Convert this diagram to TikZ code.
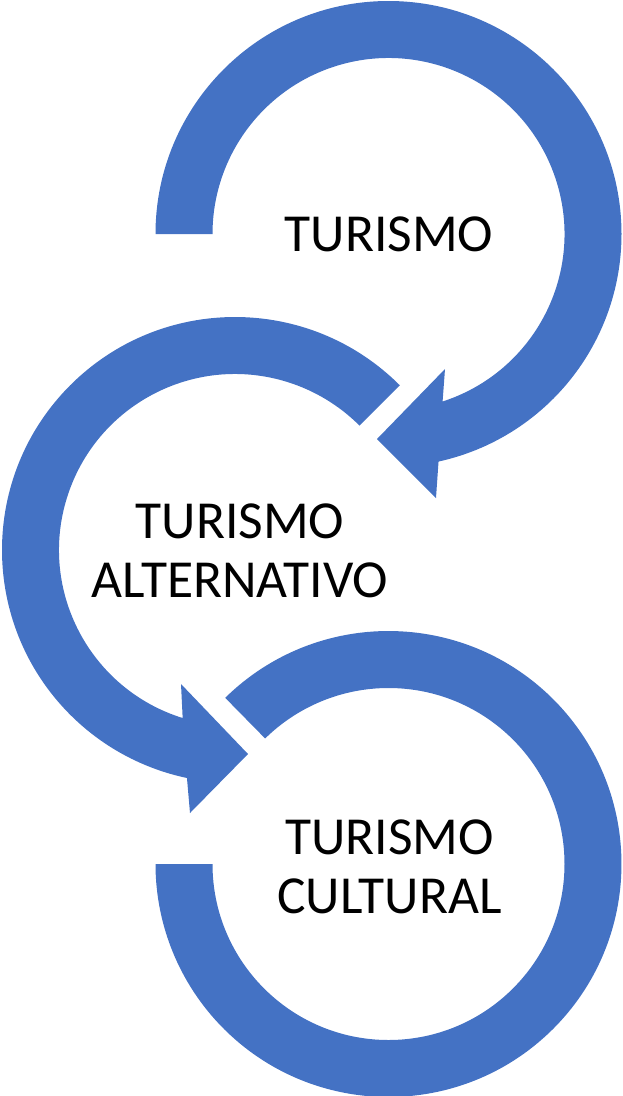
\documentclass[tikz,border=0pt]{standalone}
\usepackage{fontspec}
\setmainfont{Carlito}
\usetikzlibrary{calc}
\definecolor{arrowblue}{RGB}{68,114,196}
\begin{document}
\begin{tikzpicture}[x=1pt,y=1pt,
  arcband/.style={fill=arrowblue, draw=none},
  captiontext/.style={font=\fontsize{53.5}{59}\selectfont, align=center, text=black, inner sep=0pt}]
\useasboundingbox (0,0) rectangle (623,-1096);
% centres
\coordinate (C1) at (388.5,-234);
\coordinate (C2) at (235,-550);
\coordinate (C3) at (388.5,-864);
% arrowhead 1
\coordinate (A1) at (445,-369);
\coordinate (T1) at (377,-439);
\coordinate (B1) at (436,-498);
% arrowhead 2
\coordinate (A2) at (181,-684);
\coordinate (T2) at (248,-754);
\coordinate (B2) at (190,-813);
% arc 1
\fill[arcband] ($(C1)+(180:233)$) arc[start angle=180, end angle=-77.6, radius=233]
  -- (B1) -- (T1) -- (A1) -- ($(C1)+(-72.1:176)$)
  arc[start angle=-72.1, end angle=180, radius=176] -- cycle;
% arc 2
\fill[arcband] ($(C2)+(45:233)$) arc[start angle=45, end angle=258.1, radius=233]
  -- (B2) -- (T2) -- (A2) -- ($(C2)+(252.7:176)$)
  arc[start angle=252.7, end angle=45, radius=176] -- cycle;
% arc 3
\fill[arcband] ($(C3)+(134.5:233)$) arc[start angle=134.5, end angle=-180, radius=233]
  -- ($(C3)+(180:176)$)
  arc[start angle=-180, end angle=134.5, radius=176] -- cycle;
% texts
\node[captiontext] (t1) at (389,-234) {TURISMO};
\node[captiontext] (t2) at (240,-551) {TURISMO\\ALTERNATIVO};
\node[captiontext] (t3) at (389.5,-867) {TURISMO\\CULTURAL};
\end{tikzpicture}
\end{document}
